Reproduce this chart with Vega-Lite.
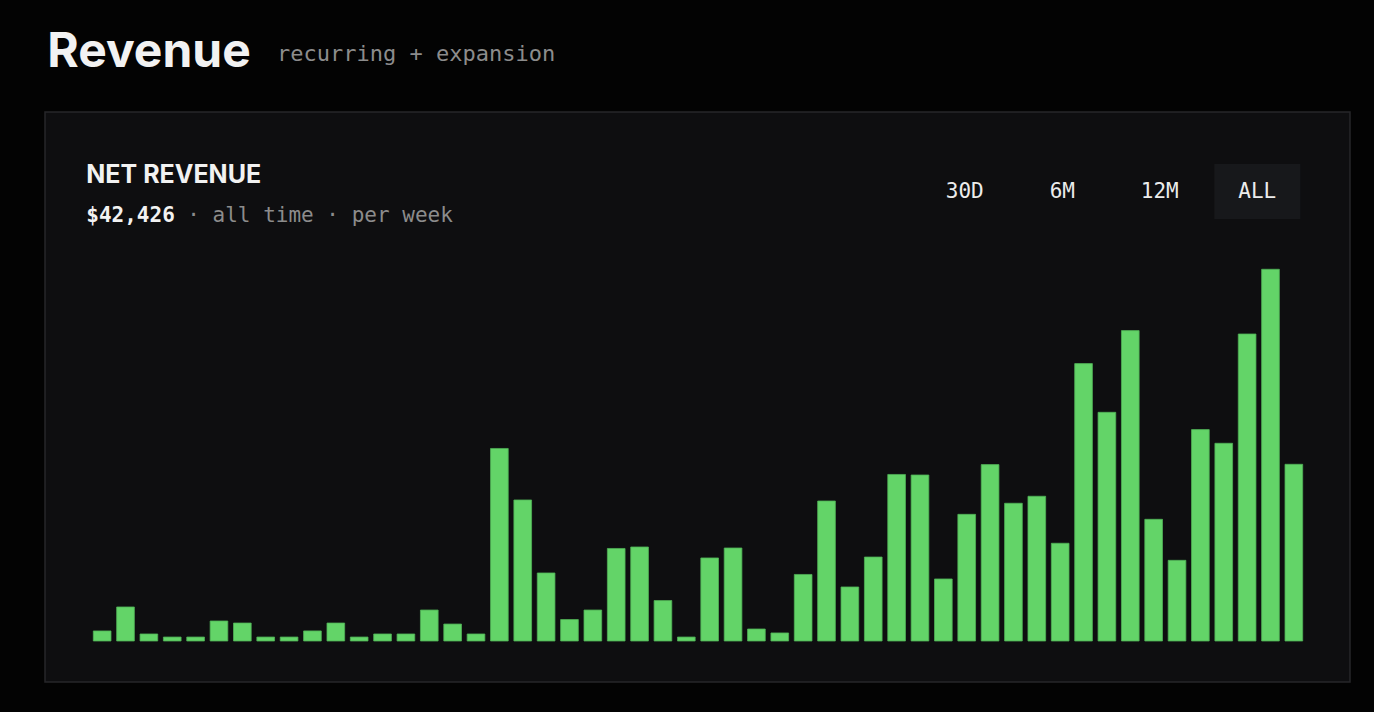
{
  "$schema": "https://vega.github.io/schema/vega-lite/v6.json",
  "description": "Weekly net revenue, all time",
  "background": "#030303",
  "padding": {"left": 44, "top": 29, "right": 25, "bottom": 30},
  "title": {
    "text": "Revenue",
    "anchor": "start",
    "baseline": "alphabetic",
    "offset": -73,
    "dx": 3,
    "font": "Inter",
    "fontSize": 48,
    "fontWeight": "bold",
    "color": "#f2f2f2"
  },
  "vconcat": [
    {
      "width": 1305,
      "height": 570,
      "title": {
        "text": "recurring + expansion",
        "anchor": "start",
        "baseline": "alphabetic",
        "offset": 29,
        "dx": 232,
        "font": "DejaVu Sans Mono",
        "fontSize": 22,
        "fontWeight": "normal",
        "color": "#8c8c8c"
      },
      "resolve": {"scale": {"x": "independent"}},
      "layer": [
        {
          "layer": [
            {
              "data": {
                "values": [
                  {"week": 1, "revenue": 89},
                  {"week": 2, "revenue": 301},
                  {"week": 3, "revenue": 62},
                  {"week": 4, "revenue": 35},
                  {"week": 5, "revenue": 35},
                  {"week": 6, "revenue": 177},
                  {"week": 7, "revenue": 159},
                  {"week": 8, "revenue": 35},
                  {"week": 9, "revenue": 35},
                  {"week": 10, "revenue": 89},
                  {"week": 11, "revenue": 159},
                  {"week": 12, "revenue": 35},
                  {"week": 13, "revenue": 62},
                  {"week": 14, "revenue": 62},
                  {"week": 15, "revenue": 274},
                  {"week": 16, "revenue": 150},
                  {"week": 17, "revenue": 62},
                  {"week": 18, "revenue": 1704},
                  {"week": 19, "revenue": 1248},
                  {"week": 20, "revenue": 602},
                  {"week": 21, "revenue": 190},
                  {"week": 22, "revenue": 274},
                  {"week": 23, "revenue": 819},
                  {"week": 24, "revenue": 832},
                  {"week": 25, "revenue": 358},
                  {"week": 26, "revenue": 35},
                  {"week": 27, "revenue": 735},
                  {"week": 28, "revenue": 823},
                  {"week": 29, "revenue": 106},
                  {"week": 30, "revenue": 71},
                  {"week": 31, "revenue": 589},
                  {"week": 32, "revenue": 1239},
                  {"week": 33, "revenue": 478},
                  {"week": 34, "revenue": 743},
                  {"week": 35, "revenue": 1474},
                  {"week": 36, "revenue": 1469},
                  {"week": 37, "revenue": 549},
                  {"week": 38, "revenue": 1121},
                  {"week": 39, "revenue": 1561},
                  {"week": 40, "revenue": 1219},
                  {"week": 41, "revenue": 1281},
                  {"week": 42, "revenue": 865},
                  {"week": 43, "revenue": 2455},
                  {"week": 44, "revenue": 2024},
                  {"week": 45, "revenue": 2747},
                  {"week": 46, "revenue": 1077},
                  {"week": 47, "revenue": 714},
                  {"week": 48, "revenue": 1871},
                  {"week": 49, "revenue": 1750},
                  {"week": 50, "revenue": 2717},
                  {"week": 51, "revenue": 3290},
                  {"week": 52, "revenue": 1564}
                ]
              },
              "mark": {"type": "bar", "color": "#63d468", "stroke": "#4fb055", "strokeWidth": 0.8},
              "encoding": {
                "x": {
                  "field": "week",
                  "type": "ordinal",
                  "scale": {"range": [48.3, 1257.7], "paddingInner": 0.243, "paddingOuter": 0},
                  "axis": null
                },
                "y": {
                  "field": "revenue",
                  "type": "quantitative",
                  "scale": {"domain": [-363, 4682], "nice": false, "zero": false},
                  "axis": null
                },
                "y2": {"datum": 0}
              }
            },
            {
              "data": {"values": [{"metric": "NET REVENUE", "total": "$42,426", "note": "· all time · per week"}]},
              "layer": [
                {
                  "mark": {"type": "text", "align": "left", "baseline": "middle", "dx": -7, "font": "Inter", "fontSize": 25, "fontWeight": "bold", "letterSpacing": 2.8, "color": "#f2f2f2"},
                  "encoding": {
                    "x": {"datum": 1, "type": "ordinal", "bandPosition": 0},
                    "y": {"datum": 4124, "type": "quantitative"},
                    "text": {"field": "metric"}
                  }
                },
                {
                  "mark": {"type": "text", "align": "left", "baseline": "middle", "dx": -7, "font": "DejaVu Sans Mono", "fontSize": 21, "fontWeight": "bold", "color": "#f2f2f2"},
                  "encoding": {
                    "x": {"datum": 1, "type": "ordinal", "bandPosition": 0},
                    "y": {"datum": 3761, "type": "quantitative"},
                    "text": {"field": "total"}
                  }
                },
                {
                  "mark": {"type": "text", "align": "left", "baseline": "middle", "dx": 94, "font": "DejaVu Sans Mono", "fontSize": 21, "color": "#8c8c8c"},
                  "encoding": {
                    "x": {"datum": 1, "type": "ordinal", "bandPosition": 0},
                    "y": {"datum": 3761, "type": "quantitative"},
                    "text": {"field": "note"}
                  }
                }
              ]
            }
          ]
        },
        {
          "data": {
            "values": [
              {"range": "30D", "active": false},
              {"range": "6M", "active": false},
              {"range": "12M", "active": false},
              {"range": "ALL", "active": true}
            ]
          },
          "encoding": {
            "x": {
              "field": "range",
              "type": "nominal",
              "sort": null,
              "scale": {"type": "band", "range": [876.8, 1255.3], "paddingInner": 0.118, "paddingOuter": 0},
              "axis": null
            }
          },
          "layer": [
            {
              "mark": {"type": "rect"},
              "encoding": {
                "y": {"datum": 4221, "type": "quantitative"},
                "y2": {"datum": 3734},
                "fill": {"condition": {"test": "datum.active", "value": "#17181b"}, "value": "transparent"}
              }
            },
            {
              "mark": {"type": "text", "align": "center", "baseline": "middle", "font": "DejaVu Sans Mono", "fontSize": 21, "color": "#ececec"},
              "encoding": {
                "y": {"datum": 3973, "type": "quantitative"},
                "text": {"field": "range"}
              }
            }
          ]
        }
      ]
    }
  ],
  "config": {
    "view": {"fill": "#0e0e10", "stroke": "#27272a", "strokeWidth": 1.5},
    "concat": {"spacing": 0}
  }
}
